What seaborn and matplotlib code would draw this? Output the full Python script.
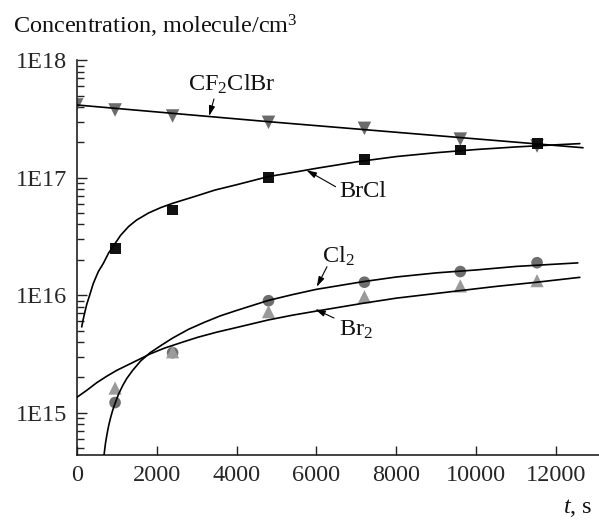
import numpy as np
import pandas as pd
import matplotlib
matplotlib.use("Agg")
import matplotlib.pyplot as plt
import seaborn as sns
from matplotlib.ticker import FixedLocator, NullFormatter, LogLocator

# ---------------- data ----------------
t_cf2 = [0, 960, 2400, 4800, 7200, 9600, 11520]
c_cf2 = [4.16e17, 3.77e17, 3.35e17, 2.96e17, 2.63e17, 2.13e17, 1.86e17]

t_obs = [960, 2400, 4800, 7200, 9600, 11520]
c_brcl = [2.51e16, 5.31e16, 1.01e17, 1.42e17, 1.72e17, 1.94e17]
c_cl2 = [1.22e15, 3.24e15, 8.98e15, 1.29e16, 1.59e16, 1.89e16]
c_br2 = [1.62e15, 3.30e15, 7.24e15, 9.70e15, 1.20e16, 1.33e16]

# model curves (log10 of concentration)
tf_cf2 = [0, 4790, 12670]
lf_cf2 = [17.619, 17.477, 17.255]

tf_brcl = [125, 160, 200, 250, 315, 415, 540, 665, 800, 960, 1100, 1300, 1500,
           1800, 2100, 2400, 3000, 3460, 4000, 4790, 5500, 6000, 7000, 8000,
           9000, 10000, 11000, 12000, 12590]
lf_brcl = [15.73, 15.79, 15.85, 15.92, 15.99, 16.10, 16.20, 16.27, 16.36, 16.44,
           16.51, 16.585, 16.64, 16.70, 16.745, 16.782, 16.845, 16.895, 16.94,
           17.009, 17.05, 17.08, 17.135, 17.18, 17.213, 17.24, 17.262, 17.28, 17.29]

tf_cl2 = [670, 720, 760, 800, 850, 900, 960, 1050, 1150, 1250, 1400, 1600, 1835,
          2100, 2400, 2800, 3200, 3600, 4000, 4790, 5400, 6000, 7160, 8000, 9000,
          10000, 11000, 12540]
lf_cl2 = [14.60, 14.74, 14.82, 14.89, 14.96, 15.02, 15.08, 15.16, 15.23, 15.29,
          15.36, 15.44, 15.51, 15.57, 15.635, 15.71, 15.77, 15.825, 15.87, 15.955,
          16.005, 16.05, 16.115, 16.155, 16.19, 16.215, 16.245, 16.275]

tf_br2 = [0, 250, 500, 750, 1000, 1300, 1600, 1835, 2200, 2600, 3030, 3500, 4000,
          4790, 5400, 6000, 7160, 8000, 9000, 9570, 10500, 11500, 12590]
lf_br2 = [15.13, 15.19, 15.255, 15.31, 15.36, 15.41, 15.46, 15.50, 15.55, 15.595,
          15.642, 15.685, 15.725, 15.789, 15.83, 15.865, 15.931, 15.975, 16.015,
          16.038, 16.075, 16.11, 16.152]

ytick_vals = [1e15, 1e16, 1e17, 1e18]
ytick_labels = ["1E15", "1E16", "1E17", "1E18"]
xtick_vals = [0, 2000, 4000, 6000, 8000, 10000, 12000]

# ---------------- style ----------------
sns.set_theme(style="ticks")
plt.rcParams["font.family"] = ["Liberation Serif", "DejaVu Serif"]
plt.rcParams["mathtext.fontset"] = "custom"
plt.rcParams["mathtext.rm"] = "Liberation Serif"
plt.rcParams["mathtext.it"] = "Liberation Serif:italic"
FS = 17.5

fig = plt.figure(figsize=(5.99, 5.20), dpi=100)
W, H = 599, 520
ax = fig.add_axes([76.7 / W, (H - 455) / H, (W - 76.7) / W, (455 - 60.2) / H])

obs = [
    (t_cf2, c_cf2, "v", "#6b6b6b", 95),
    (t_obs, c_brcl, "s", "#111111", 62),
    (t_obs, c_cl2, "o", "#6e6e6e", 70),
    (t_obs, c_br2, "^", "#9a9a9a", 90),
]
for tt, cc, mk, col, s in obs:
    df = pd.DataFrame({"t": tt, "c": cc})
    sns.scatterplot(data=df, x="t", y="c", marker=mk, color=col, s=s,
                    edgecolor="none", ax=ax, zorder=2)

fits = [(tf_cf2, lf_cf2), (tf_brcl, lf_brcl), (tf_cl2, lf_cl2), (tf_br2, lf_br2)]
for tt, ll in fits:
    df = pd.DataFrame({"t": tt, "c": np.power(10.0, ll)})
    sns.lineplot(data=df, x="t", y="c", estimator=None, sort=False,
                 color="black", lw=1.2, ax=ax, zorder=3)

ax.set_yscale("log")
ax.set_xlim(0, 13070)
ax.set_ylim(10 ** 14.64, 1e18)

ax.yaxis.set_major_locator(FixedLocator(ytick_vals))
ax.set_yticklabels(ytick_labels)
ax.yaxis.set_minor_locator(LogLocator(base=10, subs=np.arange(2, 10), numticks=20))
ax.yaxis.set_minor_formatter(NullFormatter())
ax.set_xticks(xtick_vals)
ax.set_xticklabels([str(v) for v in xtick_vals])

ax.tick_params(axis="y", which="major", direction="in", length=7.2, width=1.0,
               pad=7, labelsize=FS, color="#222222")
ax.tick_params(axis="y", which="minor", direction="in", length=4.8, width=1.0,
               color="#222222")
ax.tick_params(axis="x", which="major", direction="in", length=6.5, width=1.0,
               pad=7, labelsize=FS, color="#222222")
for sp in ["top", "right"]:
    ax.spines[sp].set_visible(False)
for sp in ["left", "bottom"]:
    ax.spines[sp].set_linewidth(1.2)
    ax.spines[sp].set_color("#222222")
ax.set_xlabel("")
ax.set_ylabel("")

# ---------------- text and arrows ----------------
def fp(px, py):
    return (px / W, (H - py) / H)

fig.text(*fp(13, 33.5), "Concentration, molecule/cm$^3$", fontsize=FS,
         ha="left", va="baseline", color="#111111")
fig.text(*fp(592, 513), "$t$, s", fontsize=FS, ha="right", va="baseline",
         color="#111111")

labels = [
    ("CF$_2$ClBr", (188, 91), (214, 99), (3313, 3.35e17)),
    ("BrCl", (339, 197), (335.6, 186.7), (5749, 1.16e17)),
    ("Cl$_2$", (322, 263), (327, 266.7), (6007, 1.18e16)),
    ("Br$_2$", (339, 336), (334, 318), (5967, 7.6e15)),
]
for txt, (tx, ty), (ax_px, ay_px), head in labels:
    fig.text(*fp(tx, ty), txt, fontsize=FS, ha="left", va="baseline",
             color="#111111")
    ax.annotate("", xy=head, xycoords="data",
                xytext=(ax_px, H - ay_px), textcoords="figure pixels",
                arrowprops=dict(arrowstyle="-|>,head_length=0.5,head_width=0.15",
                                color="black", lw=0.8, shrinkA=0, shrinkB=0))

fig.savefig("out.png", dpi=100)
